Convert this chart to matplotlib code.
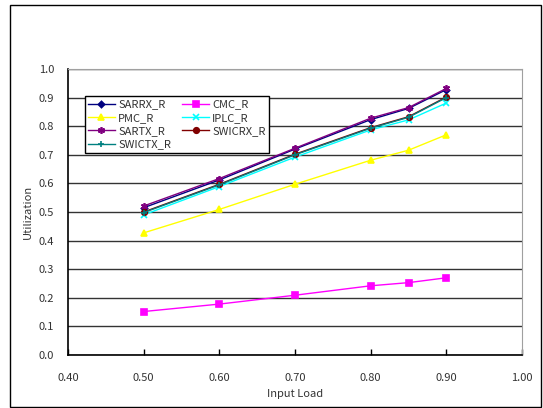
import matplotlib
matplotlib.use("Agg")
import matplotlib.pyplot as plt
from matplotlib.patches import Rectangle

plt.rcParams['font.family'] = ['Noto Sans CJK JP', 'DejaVu Sans']

loads = [0.50, 0.60, 0.70, 0.80, 0.85, 0.90]

sarrx = [0.515, 0.612, 0.720, 0.823, 0.862, 0.928]
cmc = [0.152, 0.178, 0.209, 0.242, 0.253, 0.270]
pmc = [0.427, 0.509, 0.597, 0.681, 0.716, 0.770]
iplc = [0.490, 0.589, 0.692, 0.787, 0.822, 0.881]
sartx = [0.521, 0.617, 0.723, 0.828, 0.865, 0.932]
swicrx = [0.500, 0.597, 0.702, 0.795, 0.833, 0.902]
swictx = [0.498, 0.595, 0.700, 0.793, 0.831, 0.900]

x_ticks = [0.40, 0.50, 0.60, 0.70, 0.80, 0.90, 1.00]
y_ticks = [0.0, 0.1, 0.2, 0.3, 0.4, 0.5, 0.6, 0.7, 0.8, 0.9, 1.0]

# name, values, colour, marker, size
series = [
    ("SARRX_R", sarrx, "#000080", "D", 3.2),
    ("CMC_R", cmc, "#FF00FF", "s", 4),
    ("PMC_R", pmc, "#FFFF00", "^", 4.5),
    ("IPLC_R", iplc, "#00FFFF", "x", 4),
    ("SARTX_R", sartx, "#800080", (6, 2, 0), 5),
    ("SWICRX_R", swicrx, "#800000", "o", 4),
    ("SWICTX_R", swictx, "#008080", "+", 5),
]

fig = plt.figure(figsize=(5.43, 4.08), dpi=100)
ax = fig.add_axes([68 / 543, 53 / 408, 454 / 543, 286 / 408])

handles = {}
for name, vals, col, mk, ms in series:
    h, = ax.plot(loads, vals, color=col, marker=mk, markersize=ms, lw=1.0,
                 markeredgecolor=col, markerfacecolor=col, markeredgewidth=1.2,
                 label=name)
    handles[name] = h

ax.set_xlim(0.40, 1.00)
ax.set_ylim(0.0, 1.0)
ax.set_xticks(x_ticks)
ax.set_xticklabels([f"{v:.2f}" for v in x_ticks])
ax.set_yticks(y_ticks)
ax.set_yticklabels([f"{v:.1f}" for v in y_ticks])
ax.tick_params(axis='x', direction='in', length=4, width=1, labelsize=8, pad=13, colors='black')
ax.tick_params(axis='y', length=0, labelsize=8, pad=10)
for lab in ax.get_xticklabels() + ax.get_yticklabels():
    lab.set_color('#333333')
ax.grid(axis='y', color='#333333', lw=1)
ax.set_axisbelow(True)
ax.spines['left'].set_color('black')
ax.spines['bottom'].set_color('black')
ax.spines['left'].set_linewidth(1.2)
ax.spines['bottom'].set_linewidth(1.2)
ax.spines['top'].set_color('#a0a0a0')
ax.spines['right'].set_color('#a0a0a0')

ax.set_xlabel("Input Load", fontsize=8, color='#333333', labelpad=4)
ax.set_ylabel("Utilization", fontsize=8, color='#333333', labelpad=4)

# two columns, filled column-wise like the reference
order = ["SARRX_R", "PMC_R", "SARTX_R", "SWICTX_R", "CMC_R", "IPLC_R", "SWICRX_R"]
leg = ax.legend([handles[n] for n in order], order, ncol=2, loc='upper left',
                bbox_to_anchor=(0.037, 0.905), fontsize=8, frameon=True,
                fancybox=False, edgecolor='black', framealpha=1,
                handlelength=2.4, handletextpad=0.3, columnspacing=1.0,
                labelspacing=0.3, borderpad=0.3, borderaxespad=0)
leg.get_frame().set_linewidth(1)
for t in leg.get_texts():
    t.set_color('#333333')

fig.patches.append(Rectangle((10 / 543, 1 / 408), 531 / 543, 402 / 408,
                             transform=fig.transFigure, fill=False,
                             edgecolor='black', lw=1))

fig.savefig("out.png", dpi=100)
